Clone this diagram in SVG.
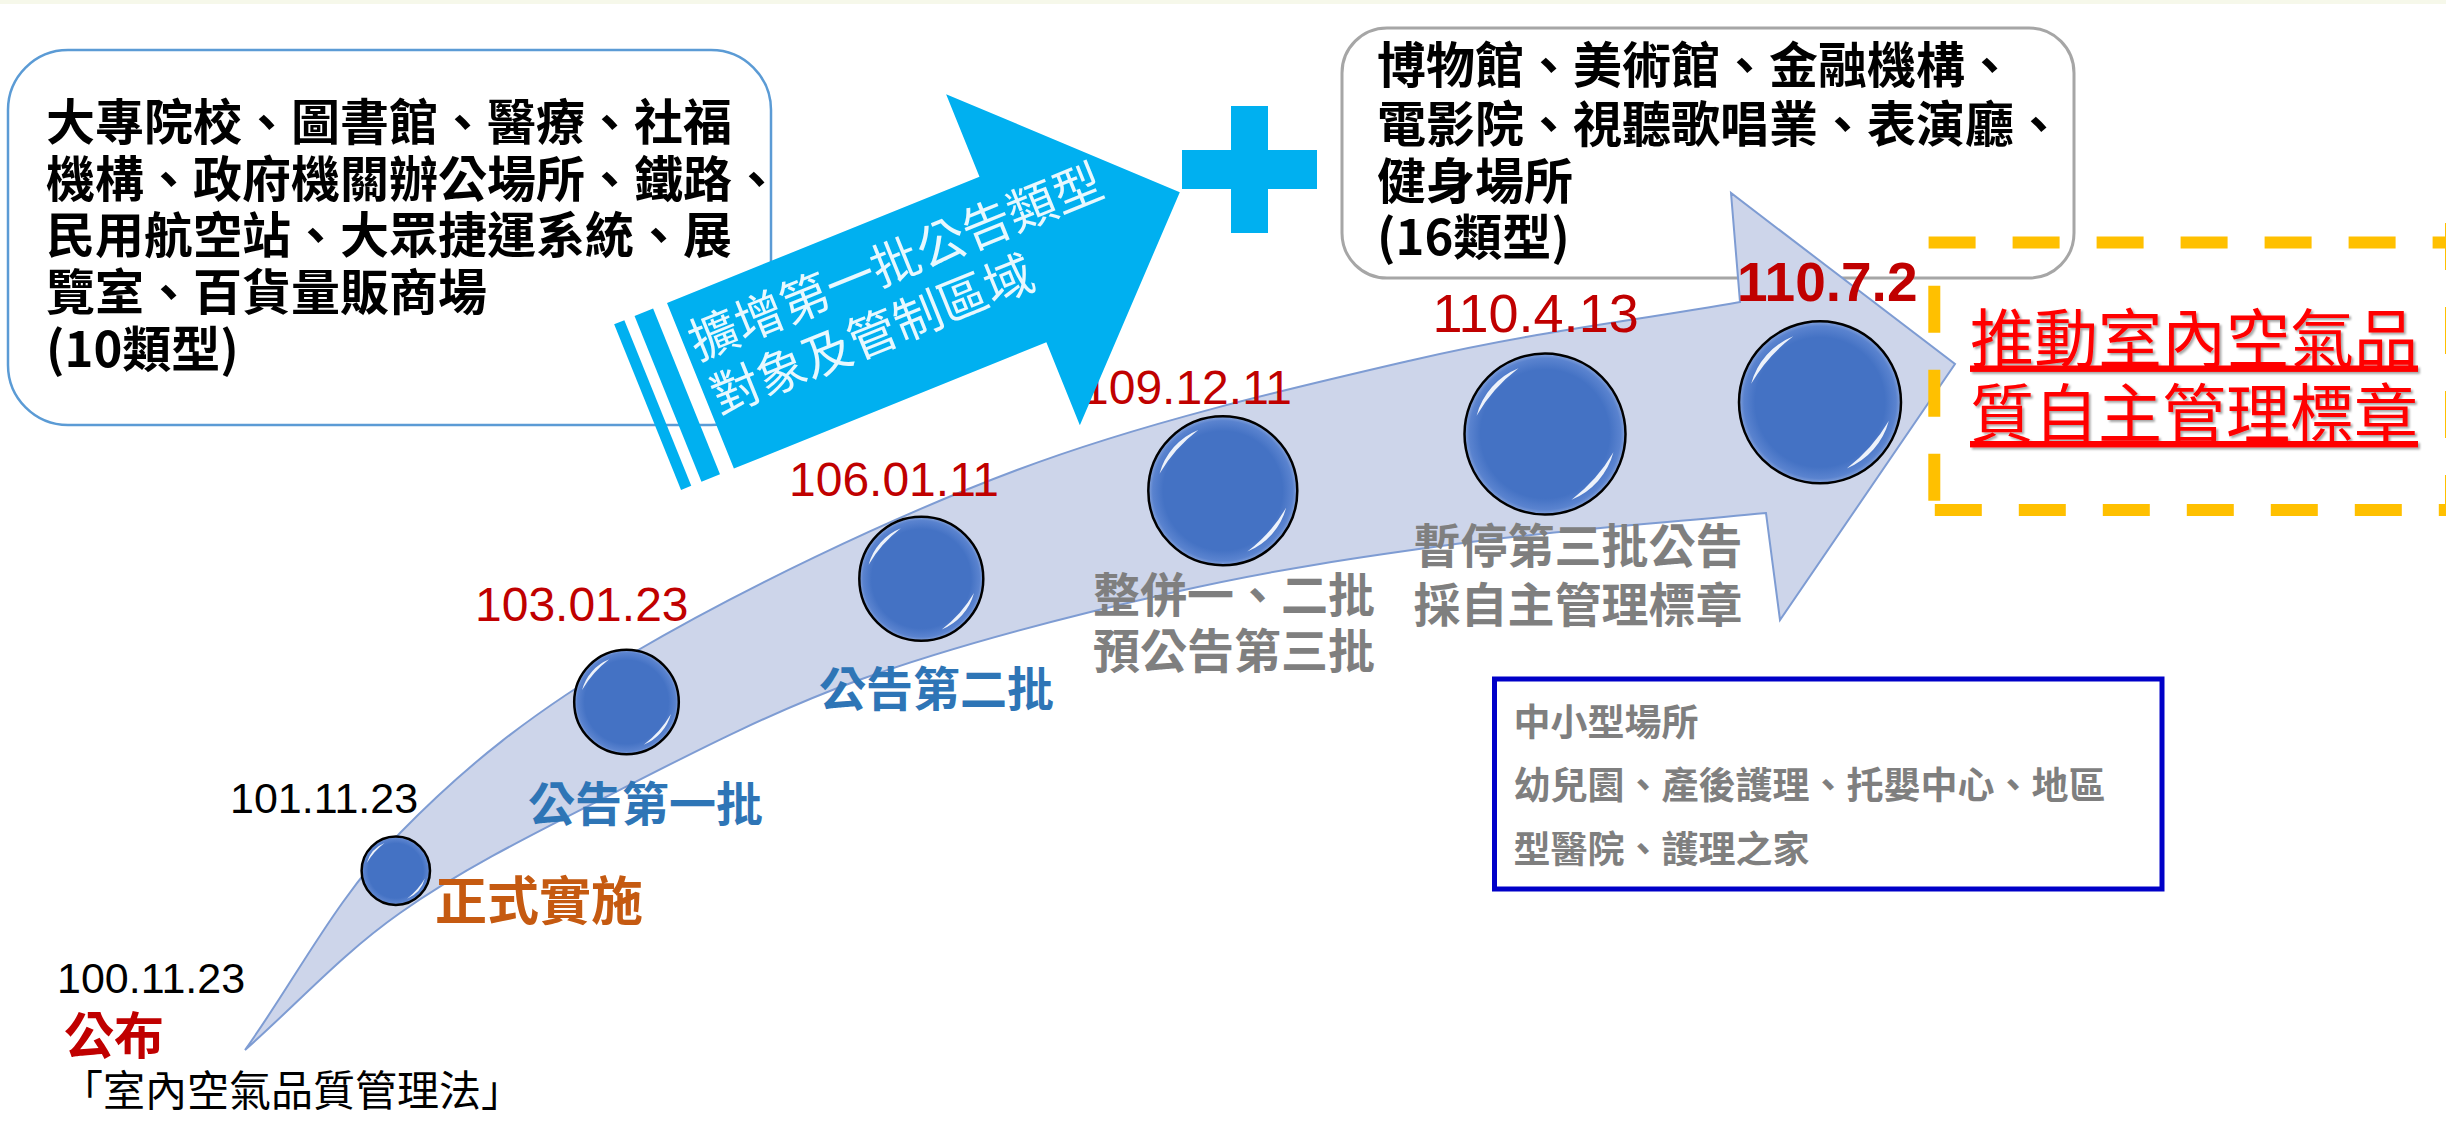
<svg xmlns="http://www.w3.org/2000/svg" width="2446" height="1125" viewBox="0 0 2446 1125">
<defs>
<style>
.cjk{font-family:'Noto Sans CJK TC','Noto Sans CJK SC',sans-serif}
.num{font-family:'Liberation Sans',Arial,sans-serif}
.boxt{font-family:'Noto Sans CJK TC','Noto Sans CJK SC',sans-serif;font-weight:bold;font-size:49px;fill:#000}
.gray{font-family:'Noto Sans CJK TC','Noto Sans CJK SC',sans-serif;font-size:47px;fill:#7F7F7F;font-weight:bold}
.blue{font-family:'Noto Sans CJK TC','Noto Sans CJK SC',sans-serif;font-size:47px;fill:#2E75B6;font-weight:bold}
.red{fill:#C00000}
.dash{stroke:#FFC000;stroke-width:12;stroke-dasharray:47 37;fill:none}
.ring{fill:none;stroke:#000;stroke-width:2.5}
.cyan{fill:#00B0F0}
.small{font-family:'Noto Sans CJK TC','Noto Sans CJK SC',sans-serif;font-size:37px;fill:#7F7F7F;font-weight:bold}
.goalt{font-family:'Noto Sans CJK TC','Noto Sans CJK SC',sans-serif;font-size:64px;fill:#FF0000;text-decoration:underline}
</style>
<filter id="shadow" x="-5%" y="-20%" width="110%" height="140%">
<feDropShadow dx="2" dy="2" stdDeviation="1" flood-color="#000000" flood-opacity="0.35"/>
</filter>
<radialGradient id="sph" cx="0.5" cy="0.5" r="0.5">
<stop offset="0" stop-color="#4472C4"/>
<stop offset="0.8" stop-color="#4472C4"/>
<stop offset="0.94" stop-color="#5A83CF"/>
<stop offset="1" stop-color="#86A3DB"/>
</radialGradient>
<g id="gloss">
<circle r="100" fill="url(#sph)"/>
<path d="M-85,-22.8 A88,88 0 0 1 -33,-81.6 A200,200 0 0 0 -85,-22.8 Z" fill="#FFFFFF" opacity="0.9"/>
<path d="M85,22.8 A88,88 0 0 1 33,81.6 A200,200 0 0 0 85,22.8 Z" fill="#FFFFFF" opacity="0.9"/>
</g>
</defs>
<rect x="0" y="0" width="2446" height="1125" fill="#FFFFFF"/>
<rect x="0" y="0" width="2446" height="4" fill="#F6F8EA"/>

<g id="box-10types">
<rect x="8" y="50" width="763" height="375" rx="60" ry="60" fill="#FFFFFF" stroke="#5B9BD5" stroke-width="2.5"/>
<text class="boxt" x="46" y="140">大專院校、圖書館、醫療、社福</text>
<text class="boxt" x="46" y="196.6">機構、政府機關辦公場所、鐵路、</text>
<text class="boxt" x="46" y="253.3">民用航空站、大眾捷運系統、展</text>
<text class="boxt" x="46" y="310">覽室、百貨量販商場</text>
<text class="boxt" x="46" y="366.6">(10類型)</text>
</g>

<g id="box-16types">
<rect x="1342" y="28" width="732" height="250" rx="45" ry="45" fill="#FFFFFF" stroke="#A6A6A6" stroke-width="3"/>
<text class="boxt" x="1377" y="82.6">博物館、美術館、金融機構、</text>
<text class="boxt" x="1377" y="141.6">電影院、視聽歌唱業、表演廳、</text>
<text class="boxt" x="1377" y="199">健身場所</text>
<text class="boxt" x="1377" y="254.6">(16類型)</text>
</g>

<g id="connectors">
<path id="timeline-arrow" d="M245,1050 C296.7,977.7 335.3,899.2 400,833 C464.7,766.8 530.2,713.5 633,653 C735.8,592.5 887,518.8 1017,470 C1147,421.2 1292.5,388 1413,360 C1533.5,332 1631,321.3 1740,302 L1731,193 L1955,364 L1780,620 L1766,513 C1665,523 1561.5,529.8 1463,543 C1364.5,556.2 1275.7,569.2 1175,592 C1074.3,614.8 954.8,645.3 859,680 C763.2,714.7 676.5,761.2 600,800 C523.5,838.8 459.2,871.3 400,913 C340.8,954.7 296.7,1004.3 245,1050 Z" fill="#CDD5EA" stroke="#7E9CD3" stroke-width="2"/>
</g>

<g id="node-100-11-23">
<text class="num" x="57" y="993" font-size="43" fill="#000">100.11.23</text>
<text class="cjk" x="64" y="1054" font-size="50" font-weight="bold" fill="#C00000">公布</text>
<text class="cjk" x="61" y="1106" font-size="42" fill="#000">「室內空氣品質管理法」</text>
</g>

<g id="node-101-11-23">
<use href="#gloss" transform="translate(395.8,870.8) scale(0.342)"/>
<circle class="ring" cx="395.8" cy="870.8" r="34.2"/>
<text class="num" x="230" y="813" font-size="43" fill="#000">101.11.23</text>
<text class="cjk" x="435" y="920" font-size="52" font-weight="bold" fill="#C55A11">正式實施</text>
</g>

<g id="node-103-01-23">
<use href="#gloss" transform="translate(626.5,702) scale(0.523)"/>
<circle class="ring" cx="626.5" cy="702" r="52.3"/>
<text class="num red" x="475" y="621" font-size="48">103.01.23</text>
<text class="blue" x="528" y="820.5">公告第一批</text>
</g>

<g id="node-106-01-11">
<use href="#gloss" transform="translate(921.3,578.8) scale(0.62)"/>
<circle class="ring" cx="921.3" cy="578.8" r="62"/>
<text class="num red" x="789" y="496" font-size="48">106.01.11</text>
<text class="blue" x="819" y="706">公告第二批</text>
</g>

<g id="node-109-12-11">
<use href="#gloss" transform="translate(1222.8,490.8) scale(0.745)"/>
<circle class="ring" cx="1222.8" cy="490.8" r="74.5"/>
<text class="num red" x="1082" y="404" font-size="48">109.12.11</text>
<text class="gray" x="1093" y="611.7">整併一、二批</text>
<text class="gray" x="1093" y="668.4">預公告第三批</text>
</g>

<g id="node-110-4-13">
<use href="#gloss" transform="translate(1545,434) scale(0.805)"/>
<circle class="ring" cx="1545" cy="434" r="80.5"/>
<text class="num red" x="1432.5" y="331.7" font-size="54">110.4.13</text>
<text class="gray" x="1413.5" y="563.3">暫停第三批公告</text>
<text class="gray" x="1413.5" y="621.7">採自主管理標章</text>
</g>

<g id="node-110-7-2">
<use href="#gloss" transform="translate(1820,402.3) scale(0.81)"/>
<circle class="ring" cx="1820" cy="402.3" r="81"/>
<text class="num red" x="1737" y="300.7" font-size="55" font-weight="bold">110.7.2</text>
</g>

<g id="cyan-arrow" transform="translate(667,303) rotate(-22)">
<path class="cyan" d="M0,0 H337 V-89 L517,89.3 L337,268 V178.6 H0 Z"/>
<rect class="cyan" x="-35" y="0" width="20" height="178.6"/>
<rect class="cyan" x="-57" y="0" width="11" height="178.6"/>
<text class="cjk" x="7" y="65" font-size="49" fill="#E8F8FE">擴增第一批公告類型</text>
<text class="cjk" x="7" y="124" font-size="49" fill="#E8F8FE">對象及管制區域</text>
</g>

<g id="plus">
<rect class="cyan" x="1231" y="106" width="37" height="127"/>
<rect class="cyan" x="1182" y="150" width="135" height="39"/>
</g>

<g id="goal">
<line class="dash" x1="1928.6" y1="242.5" x2="2446" y2="242.5"/>
<line class="dash" x1="1934.8" y1="510" x2="2446" y2="510"/>
<line class="dash" x1="1934.3" y1="285.7" x2="1934.3" y2="504"/>
<line class="dash" x1="2451" y1="223" x2="2451" y2="516"/>
<text class="goalt" x="1970" y="361.5" filter="url(#shadow)">推動室內空氣品</text>
<text class="goalt" x="1970" y="437" filter="url(#shadow)">質自主管理標章</text>
</g>

<g id="small-venues">
<rect x="1494.5" y="679" width="667.5" height="210" fill="#FFFFFF" stroke="#0000C8" stroke-width="5"/>
<text class="small" x="1513.5" y="735.5">中小型場所</text>
<text class="small" x="1513.5" y="798.6">幼兒園、產後護理、托嬰中心、地區</text>
<text class="small" x="1513.5" y="862.5">型醫院、護理之家</text>
</g>
</svg>
